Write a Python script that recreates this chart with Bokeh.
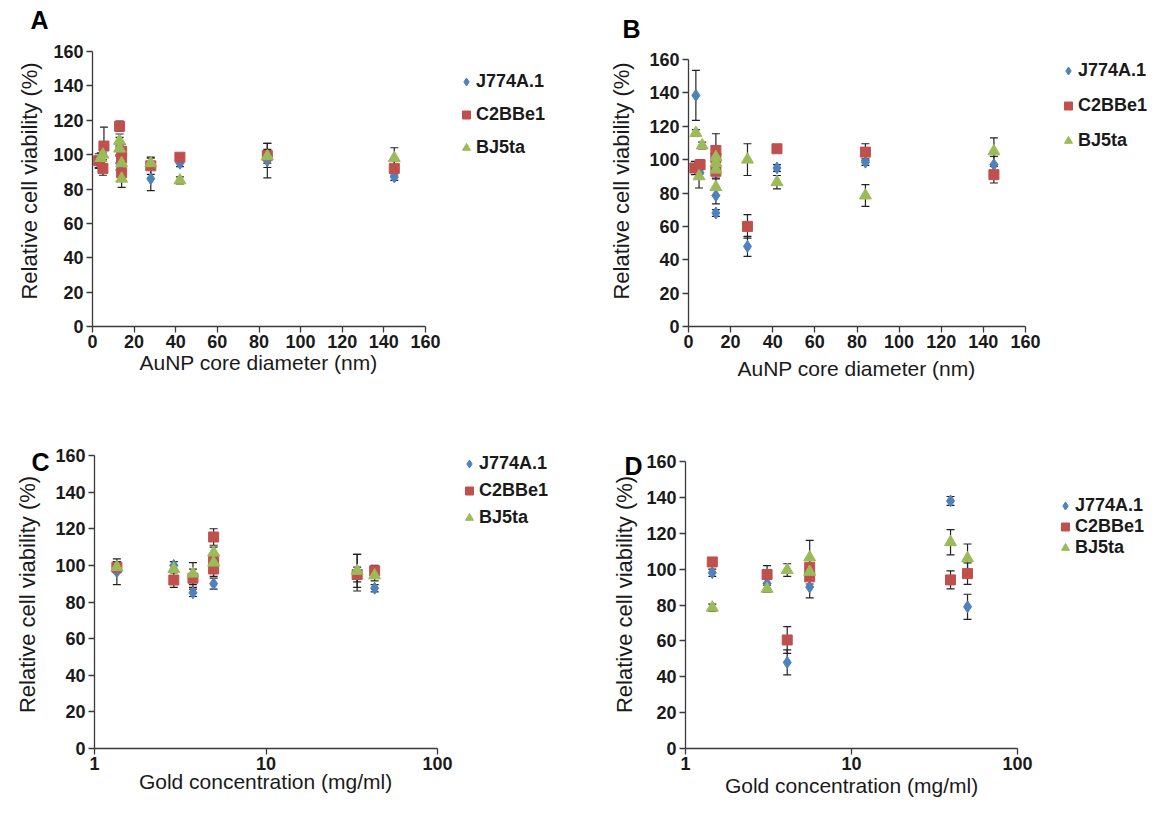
from bokeh.plotting import figure
from bokeh.models import (Whisker, ColumnDataSource, Legend, LegendItem, Title,
                          TeeHead, FixedTicker, Range1d, LinearAxis, LogAxis)
from bokeh.layouts import column, row
from bokeh.embed import file_html
from bokeh.resources import INLINE

series = ["J774A.1", "C2BBe1", "BJ5ta"]
colors = ["#4F81BD", "#C0504D", "#9BBB59"]

# Panel A: AuNP core diameter (nm) vs viability
a_j_x = [3, 5, 13, 13, 28, 42, 84, 145]
a_j_y = [95, 101, 105, 95, 86, 95, 96.5, 87]
a_j_e = [3, 4, 5, 4, 7, 2, 10, 2]
a_c_x = [3, 5.5, 5, 13, 14, 14, 14, 28, 42, 84, 145]
a_c_y = [96.5, 105, 92, 116.5, 102, 98, 89.5, 93.5, 98.5, 99.5, 92]
a_c_e = [4, 11, 4, 3, 4, 4, 4, 5, 1, 7, 4]
a_b_x = [4, 5, 13, 13, 14, 14, 28, 42, 84, 145]
a_b_y = [98, 100, 108, 103.5, 95, 86, 95, 85, 99, 98]
a_b_e = [3, 3, 4, 4, 4, 5, 3, 2, 4, 6]

# Panel B
b_j_x = [3.5, 5.5, 13, 13, 28, 42, 84, 145]
b_j_y = [138.5, 92, 78.5, 68, 48, 95, 98.5, 97]
b_j_e = [15, 3, 5, 2, 6, 2, 2, 5]
b_c_x = [3, 5.5, 13, 13, 13, 28, 42, 84, 145]
b_c_y = [95, 97, 105.5, 101, 93, 60, 106.5, 104.5, 91]
b_c_e = [4, 3, 10, 5, 4, 7, 1, 5, 5]
b_b_x = [3.5, 6.5, 5, 13, 13, 13, 13, 28, 42, 84, 145]
b_b_y = [116, 108.5, 90, 101.5, 98, 94, 83.5, 100, 86.5, 78.5, 105]
b_b_e = [2, 2, 7, 4, 3, 3, 5, 9.5, 4, 6.5, 8]

# Panel C: gold concentration (mg/ml)
c_j_x = [1.35, 2.9, 3.75, 4.95, 34, 43]
c_j_y = [96.5, 100, 85, 90, 96, 87.5]
c_j_e = [7, 2, 2, 3, 10, 2]
c_c_x = [1.35, 2.9, 3.75, 4.95, 4.95, 4.95, 34, 43]
c_c_y = [99, 92, 93, 115.5, 103, 98, 95, 97]
c_c_e = [3, 4, 5, 4.5, 4, 4, 4, 3]
c_b_x = [1.35, 2.9, 3.75, 4.95, 4.95, 34, 43]
c_b_y = [99, 98, 95.5, 107, 101.5, 97, 94.5]
c_b_e = [3, 2, 6, 3, 3, 9, 3]

# Panel D
d_j_x = [1.45, 3.1, 4.1, 5.6, 39.5, 50]
d_j_y = [98, 92, 48, 90, 138, 79]
d_j_e = [2, 3, 7, 6, 2.5, 7]
d_c_x = [1.45, 3.1, 4.1, 5.6, 5.6, 39.5, 50]
d_c_y = [104, 97, 60.5, 101, 95.7, 94, 97.5]
d_c_e = [1, 5, 7.5, 4, 4, 5, 6]
d_b_x = [1.45, 3.1, 4.1, 5.6, 5.6, 39.5, 50]
d_b_y = [78.5, 89, 99.5, 106.5, 98.5, 115, 106]
d_b_e = [2, 2, 3.5, 9.5, 3, 7, 8]

y_ticks = [0, 20, 40, 60, 80, 100, 120, 140, 160]
x_ticks_lin = [0, 20, 40, 60, 80, 100, 120, 140, 160]
x_ticks_log = [1, 10, 100]

FONT = "Liberation Sans"
AXC = "#3a3a3a"
TXT = "#1a1a1a"

# approximate Arial/Liberation Sans advance widths (em) for centring titles
_W = {"A": .667, "u": .556, "N": .722, "P": .667, " ": .278, "c": .5, "o": .556,
      "r": .333, "e": .556, "d": .556, "i": .222, "a": .556, "m": .833, "t": .278,
      "(": .333, ")": .333, "n": .556, "G": .778, "l": .222, "/": .278, "g": .556}


def text_w(s, px):
    return sum(_W.get(ch, .556) for ch in s) * px


def make_panel(letter, xs, ys, es, xlabel, log, fig_x0, fig_y0, W, H,
               frame_l, frame_t, frame_b, ax_end_px, y160_px,
               leg_x, leg_y0, pitch, let_x, let_base, xt_cx, xt_cy, ylab_standoff):
    bl = frame_l - fig_x0
    bt = frame_t - fig_y0
    bb = fig_y0 + H - frame_b
    fw = W - bl - 5
    fh = frame_b - frame_t
    # vertical mapping: 0 at frame bottom, 160 at y160_px
    s = (frame_b - y160_px) / 160.0
    ymax = fh / s
    kw = dict(width=W, height=H, output_backend="svg", toolbar_location=None,
              min_border_left=bl, min_border_top=bt, min_border_bottom=bb,
              min_border_right=5, y_range=Range1d(0, ymax), x_axis_location=None,
              y_axis_location=None)
    axis_px = ax_end_px - frame_l
    if log:
        xmax = 10 ** (2.0 * fw / axis_px)
        p = figure(x_axis_type="log", x_range=Range1d(1, xmax), **kw)
        xax = LogAxis(bounds=(1, 100), ticker=FixedTicker(ticks=x_ticks_log),
                      major_label_overrides={1: "1", 10: "10", 100: "100"})
    else:
        xmax = 160.0 * fw / axis_px
        p = figure(x_range=Range1d(0, xmax), **kw)
        xax = LinearAxis(bounds=(0, 160), ticker=FixedTicker(ticks=x_ticks_lin))
    yax = LinearAxis(bounds=(0, 160), ticker=FixedTicker(ticks=y_ticks))
    p.add_layout(xax, "below")
    p.add_layout(yax, "left")
    p.xgrid.visible = False
    p.ygrid.visible = False
    p.outline_line_color = None
    p.background_fill_color = "white"
    p.border_fill_color = "white"

    # panel letter (title above the frame)
    lfs = 25
    st = 2 * (frame_t - 0.212 * lfs - let_base)
    p.title = Title(text=letter, align="left", offset=let_x - frame_l,
                    standoff=st, vertical_align="bottom",
                    text_font=FONT, text_font_style="bold",
                    text_font_size=f"{lfs}px", text_color="black")

    for ax in (xax, yax):
        ax.axis_line_color = AXC
        ax.axis_line_width = 1.3
        ax.major_tick_line_color = AXC
        ax.major_tick_line_width = 1.3
        ax.major_tick_out = 6
        ax.major_tick_in = 0
        ax.minor_tick_line_color = None
        ax.major_label_text_font = FONT
        ax.major_label_text_font_style = "bold"
        ax.major_label_text_font_size = "18px"
        ax.major_label_text_color = TXT
        ax.axis_label_text_font = FONT
        ax.axis_label_text_font_style = "normal"
        ax.axis_label_text_color = TXT
    yax.axis_label = "Relative cell viability (%)"
    yax.axis_label_text_font_size = "22px"
    yax.axis_label_standoff = ylab_standoff
    xax.major_label_standoff = 2
    yax.major_label_standoff = 3

    # x axis title, centred on the bounded axis
    xfs = 21
    tw = text_w(xlabel, xfs)
    axis_bottom = frame_b + 6 + 3 + 21  # approx height of the axis panel
    top_target = xt_cy - xfs * 0.6
    xst = 2 * (top_target - axis_bottom)
    p.add_layout(Title(text=xlabel, align="left", offset=xt_cx - tw / 2 - frame_l,
                       standoff=xst, vertical_align="top",
                       text_font=FONT, text_font_style="normal",
                       text_font_size=f"{xfs}px", text_color=TXT), "below")

    renderers = []
    for i in range(3):
        lo = [y - e for y, e in zip(ys[i], es[i])]
        hi = [y + e for y, e in zip(ys[i], es[i])]
        src = ColumnDataSource(dict(x=xs[i], y=ys[i], lo=lo, hi=hi))
        if i == 0:
            r = p.scatter("x", "y", source=src, marker="diamond", size=12,
                          fill_color=colors[i], line_color=colors[i])
        elif i == 1:
            r = p.scatter("x", "y", source=src, marker="square", size=10,
                          fill_color=colors[i], line_color=colors[i])
        else:
            r = p.scatter("x", "y", source=src, marker="triangle", size=12,
                          fill_color=colors[i], line_color=colors[i])
        w = Whisker(source=src, base="x", lower="lo", upper="hi",
                    dimension="height", line_color="#222222", line_width=1.2,
                    upper_head=TeeHead(size=8, line_color="#222222", line_width=1.2),
                    lower_head=TeeHead(size=8, line_color="#222222", line_width=1.2))
        p.add_layout(w)
        renderers.append(r)

    h = 21
    sp = max(0, int(round(pitch - h)))
    H_leg = 3 * h + 2 * sp
    top = leg_y0 - h / 2
    vy = frame_b - (top + H_leg)
    legend = Legend(items=[LegendItem(label=s_, renderers=[r]) for s_, r in zip(series, renderers)],
                    location=(leg_x - 10 - frame_l, vy),
                    glyph_width=20, glyph_height=21, label_height=20,
                    spacing=sp, padding=0, margin=0, label_standoff=0,
                    border_line_color=None, background_fill_alpha=0,
                    label_text_font=FONT, label_text_font_style="bold",
                    label_text_font_size="18px", label_text_color=TXT)
    p.add_layout(legend, "center")
    return p


TOP_T, TOP_B = 35, 326      # frame top/bottom of top row (page px)
BOT_T, BOT_B = 440, 748     # frame top/bottom of bottom row

pA = make_panel("A", [a_j_x, a_c_x, a_b_x], [a_j_y, a_c_y, a_b_y], [a_j_e, a_c_e, a_b_e],
                "AuNP core diameter (nm)", False, 0, 0, 575, 400,
                92, TOP_T, TOP_B, 425, 51,
                leg_x=466, leg_y0=81, pitch=33.5, let_x=30, let_base=28,
                xt_cx=258, xt_cy=369, ylab_standoff=8)
pB = make_panel("B", [b_j_x, b_c_x, b_b_x], [b_j_y, b_c_y, b_b_y], [b_j_e, b_c_e, b_b_e],
                "AuNP core diameter (nm)", False, 575, 0, 585, 400,
                688, TOP_T, TOP_B, 1025, 59,
                leg_x=1068, leg_y0=70, pitch=35, let_x=622, let_base=37,
                xt_cx=856, xt_cy=375, ylab_standoff=12)
pC = make_panel("C", [c_j_x, c_c_x, c_b_x], [c_j_y, c_c_y, c_b_y], [c_j_e, c_c_e, c_b_e],
                "Gold concentration (mg/ml)", True, 0, 400, 575, 400,
                94, BOT_T, BOT_B, 437, 455,
                leg_x=469, leg_y0=463, pitch=27, let_x=31, let_base=470,
                xt_cx=265, xt_cy=788, ylab_standoff=12)
pD = make_panel("D", [d_j_x, d_c_x, d_b_x], [d_j_y, d_c_y, d_b_y], [d_j_e, d_c_e, d_b_e],
                "Gold concentration (mg/ml)", True, 575, 400, 585, 400,
                685, BOT_T, BOT_B, 1017, 461,
                leg_x=1065, leg_y0=505, pitch=21.5, let_x=624, let_base=474,
                xt_cx=851, xt_cy=792, ylab_standoff=6)

layout = column(row(pA, pB), row(pC, pD))
open("out.html", "w").write(file_html(layout, INLINE))
